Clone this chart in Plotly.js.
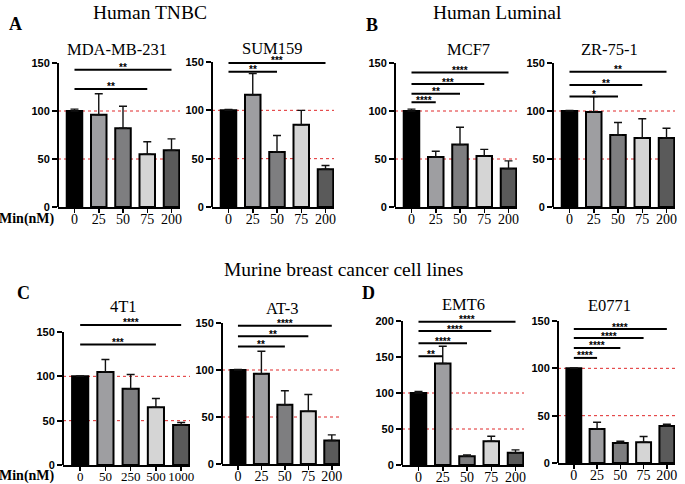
<!DOCTYPE html>
<html>
<head>
<meta charset="utf-8">
<script src="https://cdn.plot.ly/plotly-3.0.1.min.js"></script>
<style>html,body{margin:0;padding:0;background:#fff;}#chart{width:685px;height:484px;}</style>
</head>
<body>
<div id="chart"></div>
<script>
// ---------------- DATA ----------------
const catsA = ['0', '25', '50', '75', '200'];
const cats4T1 = ['0', '50', '250', '500', '1000'];

const mdaMean = [100, 96, 82, 55, 59];
const mdaErr = [2, 22, 23, 13, 12];
const mdaSigEnd = [4, 3];
const mdaSigY = [143, 123];
const mdaSigLbl = ['**', '**'];

const sumMean = [100, 116, 57, 85, 39];
const sumErr = [1, 22, 17, 15, 4];
const sumSigEnd = [4, 2];
const sumSigY = [149, 140];
const sumSigLbl = ['***', '**'];

const mcfMean = [100, 52, 65, 53, 40];
const mcfErr = [2, 6, 18, 7, 8];
const mcfSigEnd = [4, 3, 2, 1];
const mcfSigY = [140, 128, 118, 109];
const mcfSigLbl = ['****', '***', '**', '****'];

const zrMean = [100, 99, 75, 72, 72];
const zrErr = [0.5, 16, 13, 20, 10];
const zrSigEnd = [4, 3, 2];
const zrSigY = [141, 127, 115];
const zrSigLbl = ['**', '**', '*'];

const t41Mean = [100, 105, 86, 65, 45];
const t41Err = [0.5, 14, 16, 10, 3];
const t41SigEnd = [4, 3];
const t41SigY = [158, 136];
const t41SigLbl = ['****', '***'];

const at3Mean = [100, 96, 63, 56, 25];
const at3Err = [0.5, 24, 15, 18, 6];
const at3SigEnd = [4, 3, 2];
const at3SigY = [147, 136, 125];
const at3SigLbl = ['****', '**', '**'];

const emtMean = [100, 141, 12, 33, 17];
const emtErr = [2, 24, 2, 7, 4];
const emtSigEnd = [4, 3, 2, 1];
const emtSigY = [199, 186, 169, 151];
const emtSigLbl = ['****', '****', '****', '**'];

const e07Mean = [100, 36, 21, 22, 39];
const e07Err = [0.5, 7, 2, 6, 2];
const e07SigEnd = [4, 3, 2, 1];
const e07SigY = [141.5, 132, 121.5, 111];
const e07SigLbl = ['****', '****', '****', '****'];

const refLines = [100, 50];

// ---------------- PANELS ----------------
const panels = [
  {title: 'MDA-MB-231', cats: catsA, mean: mdaMean, err: mdaErr, sigEnd: mdaSigEnd, sigY: mdaSigY, sigLbl: mdaSigLbl, top: 150},
  {title: 'SUM159', cats: catsA, mean: sumMean, err: sumErr, sigEnd: sumSigEnd, sigY: sumSigY, sigLbl: sumSigLbl, top: 150},
  {title: 'MCF7', cats: catsA, mean: mcfMean, err: mcfErr, sigEnd: mcfSigEnd, sigY: mcfSigY, sigLbl: mcfSigLbl, top: 150},
  {title: 'ZR-75-1', cats: catsA, mean: zrMean, err: zrErr, sigEnd: zrSigEnd, sigY: zrSigY, sigLbl: zrSigLbl, top: 150},
  {title: '4T1', cats: cats4T1, mean: t41Mean, err: t41Err, sigEnd: t41SigEnd, sigY: t41SigY, sigLbl: t41SigLbl, top: 150},
  {title: 'AT-3', cats: catsA, mean: at3Mean, err: at3Err, sigEnd: at3SigEnd, sigY: at3SigY, sigLbl: at3SigLbl, top: 150},
  {title: 'EMT6', cats: catsA, mean: emtMean, err: emtErr, sigEnd: emtSigEnd, sigY: emtSigY, sigLbl: emtSigLbl, top: 200},
  {title: 'E0771', cats: catsA, mean: e07Mean, err: e07Err, sigEnd: e07SigEnd, sigY: e07SigY, sigLbl: e07SigLbl, top: 150}
];

// layout geometry (pixels): left axis x, right end x, zero y, top-tick y, title center, x tick font size
const geom = [
  {xl: 58, xr: 180, y0: 207, yt: 63, tx: 117, ty: 50, fs: 14},
  {xl: 212, xr: 334, y0: 207, yt: 62, tx: 272, ty: 48, fs: 14},
  {xl: 395, xr: 517, y0: 207, yt: 63, tx: 468, ty: 50, fs: 14},
  {xl: 553, xr: 675, y0: 207, yt: 63, tx: 609, ty: 50, fs: 14},
  {xl: 63, xr: 190, y0: 465, yt: 332, tx: 123, ty: 306, fs: 13},
  {xl: 222, xr: 340, y0: 464, yt: 323, tx: 282, ty: 308, fs: 14},
  {xl: 402, xr: 524, y0: 465, yt: 321, tx: 463, ty: 304, fs: 14},
  {xl: 558, xr: 675, y0: 463, yt: 321, tx: 609, ty: 305, fs: 14}
];

const barColors = ['#000000', '#9e9ea1', '#7e7e80', '#d5d5d5', '#5a5a5a'];
const W = 685, H = 484;
const px = p => p / W;
const py = p => 1 - p / H;
const serif = 'Liberation Serif, Times New Roman, serif';
const sans = 'Liberation Sans, Arial, sans-serif';
const XR = [-0.68, 4.35];

const traces = [];
const shapes = [];
const annotations = [];
const layout = {
  width: W, height: H,
  margin: {l: 0, r: 0, t: 0, b: 0},
  paper_bgcolor: '#ffffff', plot_bgcolor: 'rgba(0,0,0,0)',
  showlegend: false
};

panels.forEach((p, i) => {
  const g = geom[i];
  const n = i + 1;
  const xa = 'xaxis' + (n === 1 ? '' : n);
  const ya = 'yaxis' + (n === 1 ? '' : n);
  const xr = 'x' + (n === 1 ? '' : n);
  const yr = 'y' + (n === 1 ? '' : n);
  const ymax = p.top * 1.12;
  const ppu = (g.y0 - g.yt) / p.top;
  const topPx = g.y0 - ymax * ppu;

  traces.push({
    type: 'bar', x: p.cats, y: p.mean, xaxis: xr, yaxis: yr, width: 0.64,
    marker: {color: barColors, line: {color: '#000', width: 2}},
    error_y: {type: 'data', array: p.err, arrayminus: p.err.map(() => 0), symmetric: false,
      color: '#111', thickness: 1.4, width: 4},
    hoverinfo: 'skip'
  });

  layout[xa] = {
    domain: [px(g.xl), px(g.xr)], anchor: yr, type: 'category',
    categoryorder: 'array', categoryarray: p.cats,
    range: XR, showline: true, linecolor: '#000', linewidth: 2,
    ticks: 'outside', ticklen: 4, tickwidth: 1.5, tickcolor: '#000',
    ticklabelstandoff: -6, tickangle: 0,
    tickfont: {family: serif, size: g.fs, color: '#000'},
    showgrid: false, zeroline: false, fixedrange: true
  };
  const tv = [];
  for (let v = 0; v <= p.top; v += 50) tv.push(v);
  layout[ya] = {
    domain: [py(g.y0), py(topPx)], anchor: xr, range: [0, ymax],
    showline: false, tickvals: tv, ticktext: tv.map(v => '<b>' + v + '</b>'),
    ticks: 'outside', ticklen: 5, tickwidth: 2, tickcolor: '#000',
    tickfont: {family: sans, size: 11, color: '#000'},
    showgrid: false, zeroline: false, fixedrange: true
  };

  // y axis line up to top tick
  shapes.push({type: 'line', xref: 'paper', yref: yr, x0: px(g.xl), x1: px(g.xl), y0: 0, y1: p.top,
    line: {color: '#000', width: 2}, layer: 'above'});

  // red dotted reference lines
  refLines.forEach(v => {
    shapes.push({type: 'line', xref: xr + ' domain', yref: yr, x0: 0, x1: 1, y0: v, y1: v,
      line: {color: '#e0292b', width: 1, dash: 'dot'}, layer: 'below'});
  });

  // significance lines
  p.sigEnd.forEach((k, j) => {
    shapes.push({type: 'line', xref: xr, yref: yr, x0: 0, x1: k, y0: p.sigY[j], y1: p.sigY[j],
      line: {color: '#000', width: 2}, layer: 'above'});
    annotations.push({xref: xr, yref: yr, x: k / 2, y: p.sigY[j], text: '<b>' + p.sigLbl[j] + '</b>',
      showarrow: false, yanchor: 'middle', yshift: 2,
      font: {family: sans, size: 10, color: '#000'}});
  });

  // panel title
  annotations.push({xref: 'paper', yref: 'paper', x: px(g.tx), y: py(g.ty), text: p.title,
    showarrow: false, xanchor: 'center', yanchor: 'middle',
    font: {family: serif, size: 16.5, color: '#000'}});
});

// headings, letters, labels
const texts = [
  {t: 'Human TNBC', x: 150, y: 12, s: 19.5, b: false},
  {t: 'Human Luminal', x: 497, y: 12, s: 19.5, b: false},
  {t: 'Murine breast cancer cell lines', x: 343, y: 269, s: 19.5, b: false},
  {t: 'A', x: 16, y: 24, s: 18, b: true},
  {t: 'B', x: 372, y: 25, s: 18, b: true},
  {t: 'C', x: 23, y: 293, s: 18, b: true},
  {t: 'D', x: 368, y: 293, s: 18, b: true},
  {t: 'Min(nM)', x: 27, y: 219, s: 14, b: true},
  {t: 'Min(nM)', x: 27, y: 476, s: 14, b: true}
];
texts.forEach(o => {
  annotations.push({xref: 'paper', yref: 'paper', x: px(o.x), y: py(o.y),
    text: o.b ? '<b>' + o.t + '</b>' : o.t,
    showarrow: false, xanchor: 'center', yanchor: 'middle',
    font: {family: serif, size: o.s, color: '#000'}});
});

layout.shapes = shapes;
layout.annotations = annotations;

Plotly.newPlot('chart', traces, layout, {staticPlot: true, displayModeBar: false});
</script>
</body>
</html>
